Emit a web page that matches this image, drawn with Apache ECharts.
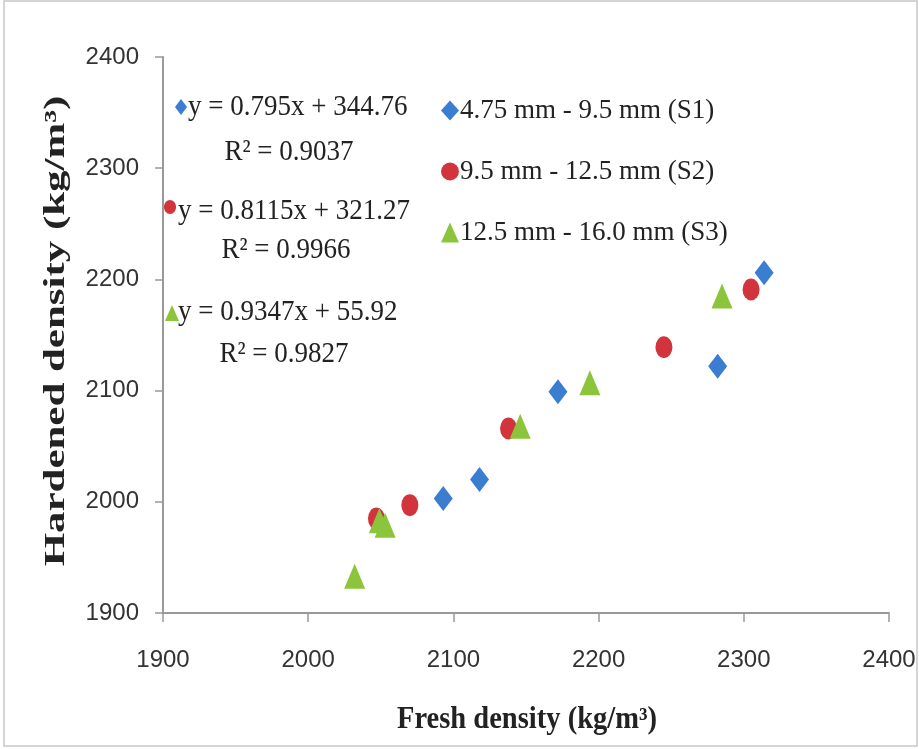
<!DOCTYPE html>
<html><head><meta charset="utf-8">
<script src="https://cdn.jsdelivr.net/npm/echarts@6/dist/echarts.min.js"></script>
<style>html,body{margin:0;padding:0;background:#fff}#c{width:919px;height:749px}</style>
</head><body><div id="c"></div>
<script>
const xTicks = [1900, 2000, 2100, 2200, 2300, 2400];
const yTicks = [1900, 2000, 2100, 2200, 2300, 2400];
const seriesNames = ['4.75 mm - 9.5 mm (S1)', '9.5 mm - 12.5 mm (S2)', '12.5 mm - 16.0 mm (S3)'];
const s1Fresh = [2093, 2118, 2172, 2282, 2314];
const s1Hard  = [2003, 2020, 2099, 2122, 2206];
const s2Fresh = [2047, 2070, 2138, 2245, 2305];
const s2Hard  = [1985, 1997, 2066, 2139, 2191];
const s3Fresh = [2032, 2049, 2053, 2146, 2194, 2285];
const s3Hard  = [1933, 1983, 1979, 2068, 2107, 2185];
const equations = ['y = 0.795x + 344.76', 'y = 0.8115x + 321.27', 'y = 0.9347x + 55.92'];
const r2 = ['R² = 0.9037', 'R² = 0.9966', 'R² = 0.9827'];
const xTitle = 'Fresh density (kg/m³)';
const yTitle = 'Hardened density (kg/m³)';
const colors = ['#3b7dd0', '#d1343c', '#8cc43c'];
const symbols = ['diamond', 'circle', 'triangle'];
const sizes = [[19, 25], [17, 22], [21, 25]];

const zip = (a, b) => a.map((v, i) => [v, b[i]]);
const data = [zip(s1Fresh, s1Hard), zip(s2Fresh, s2Hard), zip(s3Fresh, s3Hard)];

const chart = echarts.init(document.getElementById('c'));
const serif = "'Liberation Serif', 'Times New Roman', serif";
const sans = "'Liberation Sans', Arial, sans-serif";

const eqPos = [[188, 107, 289, 152], [178, 211, 286, 250], [178, 312, 284, 354]];
const graphics = [
  {type: 'rect', shape: {x: 4, y: 1, width: 913, height: 745}, style: {fill: 'none', stroke: '#c8c8c8', lineWidth: 1.5}, silent: true}
];
equations.forEach((eq, i) => {
  graphics.push({type: 'text', x: eqPos[i][0], y: eqPos[i][1], scaleX: 0.9, style: {text: eq, font: "30px " + serif, fill: '#222', align: 'left', verticalAlign: 'middle'}});
  graphics.push({type: 'text', x: eqPos[i][2], y: eqPos[i][3], scaleX: 0.9, style: {text: r2[i], font: "30px " + serif, fill: '#222', align: 'center', verticalAlign: 'middle'}});
});
graphics.push({type: 'polygon', shape: {points: [[181, 99], [187, 107], [181, 115], [175, 107]]}, style: {fill: colors[0]}});
graphics.push({type: 'ellipse', shape: {cx: 170, cy: 207, rx: 6, ry: 7}, style: {fill: colors[1]}});
graphics.push({type: 'polygon', shape: {points: [[172, 305], [179, 321], [165, 321]]}, style: {fill: colors[2]}});
graphics.push({type: 'text', x: 527, y: 720, scaleX: 0.92, style: {text: xTitle, font: "bold 31px " + serif, fill: '#222', align: 'center', verticalAlign: 'middle'}});
graphics.push({type: 'text', x: 57, y: 331, rotation: Math.PI / 2, scaleX: 1.48, style: {text: yTitle, font: "bold 29px " + serif, fill: '#222', align: 'center', verticalAlign: 'middle'}});

chart.setOption({
  backgroundColor: '#fff',
  animation: false,
  grid: {left: 163, right: 30, top: 57, bottom: 136},
  legend: {
    orient: 'vertical', left: 436, top: 92, itemGap: 34,
    itemWidth: 18, itemHeight: 20,
    textStyle: {fontFamily: serif, fontSize: 27, color: '#222', padding: [0, 0, 0, -4]},
    data: seriesNames.map((n, i) => ({name: n, icon: symbols[i]}))
  },
  xAxis: {
    type: 'value', min: 1900, max: 2400, interval: 100,
    axisLine: {lineStyle: {color: '#999', width: 2}},
    axisTick: {show: true, length: 9, lineStyle: {color: '#999', width: 1.5}},
    axisLabel: {fontFamily: sans, fontSize: 24, color: '#333', margin: 35, formatter: v => String(v)},
    splitLine: {show: false}
  },
  yAxis: {
    type: 'value', min: 1900, max: 2400, interval: 100,
    axisLine: {show: true, lineStyle: {color: '#999', width: 2}},
    axisTick: {show: true, length: 8, lineStyle: {color: '#999', width: 1.5}},
    axisLabel: {fontFamily: sans, fontSize: 24, color: '#333', margin: 24, formatter: v => String(v)},
    splitLine: {show: false}
  },
  series: data.map((d, i) => ({
    name: seriesNames[i], type: 'scatter', data: d,
    symbol: symbols[i], symbolSize: sizes[i],
    itemStyle: {color: colors[i], opacity: 1}
  })),
  graphic: graphics
});
</script></body></html>
